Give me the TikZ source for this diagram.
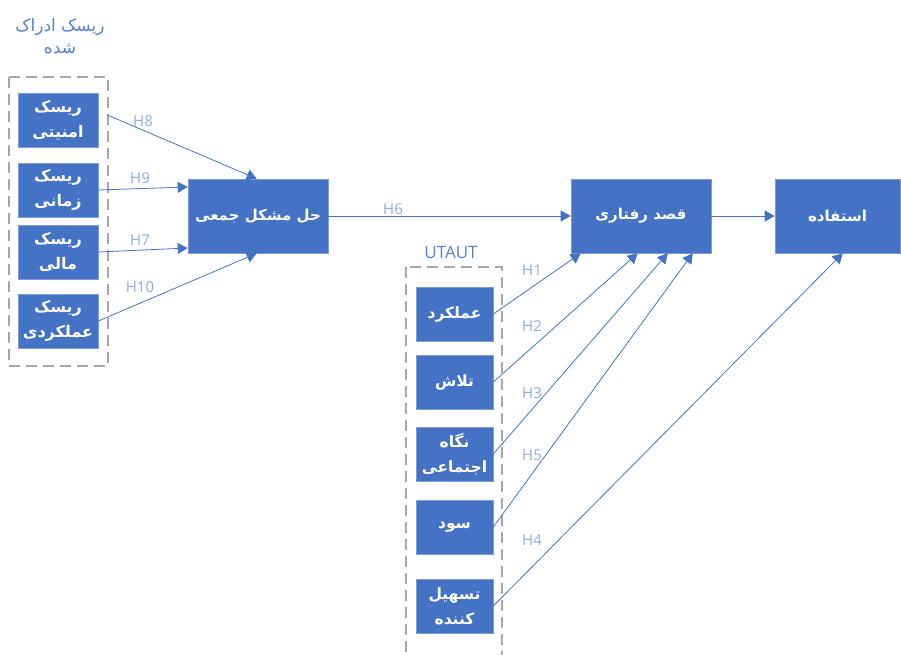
\documentclass[tikz,border=0pt]{standalone}
\usepackage{fontspec}
\usetikzlibrary{arrows.meta}
\setmainfont{Open Sans}
\newfontfamily\farsi[Script=Arabic]{DejaVu Sans}
\TeXXeTstate=1
\newcommand{\fa}[1]{{\farsi\beginR #1\endR}}

\definecolor{boxblue}{HTML}{4472C4}
\definecolor{boxedge}{HTML}{7C9AD6}
\definecolor{labblue}{HTML}{8FAADC}
\definecolor{titleblue}{HTML}{5580CA}
\definecolor{dashgray}{HTML}{A6A6A6}

\begin{document}
\begin{tikzpicture}[x=1pt,y=-1pt,
  box/.style={fill=boxblue,draw=boxedge,line width=0.6pt,text=white,align=center,
    inner sep=0pt,font=\bfseries\fontsize{15.5}{25}\selectfont},
  riskbox/.style={box,minimum width=80pt,minimum height=54pt,font=\bfseries\fontsize{16}{25}\selectfont},
  utbox/.style={box,minimum width=77pt,minimum height=54pt},
  bigbox/.style={box,minimum height=74pt,font=\bfseries\fontsize{15}{18}\selectfont},
  group/.style={draw=dashgray,line width=1.6pt,dash pattern=on 11pt off 6pt},
  conn/.style={draw=boxblue,line width=0.8pt,-{Triangle[length=10pt,width=11pt]}},
  hlab/.style={text=labblue,font=\fontsize{15}{17}\selectfont},
  gtitle/.style={text=titleblue,align=center,font=\fontsize{17}{22}\selectfont}]
\useasboundingbox (0,0) rectangle (901,654);

\draw[group] (9,77) rectangle (108,366);
\draw[group] (406,267) rectangle (502,680);

\node[gtitle] (risktitle) at (60,36) {\fa{ریسک ادراک}\\\fa{شده}};
\node[gtitle] (uttitle) at (451,252) {UTAUT};

\node[riskbox] (amniati) at (58,120) {\fa{ریسک}\\\fa{امنیتی}};
\node[riskbox] (zamani) at (58,190) {\fa{ریسک}\\\fa{زمانی}};
\node[riskbox] (mali) at (58,252) {\fa{ریسک}\\\fa{مالی}};
\node[riskbox] (amalkardi) at (58,321) {\fa{ریسک}\\\fa{عملکردی}};

\node[bigbox,minimum width=140pt] (hall) at (258,216) {\fa{حل مشکل جمعی}};
\node[bigbox,minimum width=140pt] (qasd) at (641,216) {\fa{قصد رفتاری}};
\node[bigbox,minimum width=125pt] (estefadeh) at (837.5,216) {\fa{استفاده}};

\node[utbox] (amal) at (454.5,314) {\fa{عملکرد}};
\node[utbox] (talash) at (454.5,382) {\fa{تلاش}};
\node[utbox] (negah) at (454.5,454) {\fa{نگاه}\\\fa{اجتماعی}};
\node[utbox] (sood) at (454.5,527) {\fa{سود}};
\node[utbox] (tashil) at (454.5,606) {\fa{تسهیل}\\\fa{کننده}};

% perceived risk -> collective problem solving
\draw[conn] ([xshift=9pt,yshift=5pt]amniati.east) -- ([xshift=69pt]hall.north west);
\draw[conn] (zamani.east) -- ([yshift=29pt]hall.west);
\draw[conn] (mali.east) -- ([yshift=-32pt]hall.west);
\draw[conn] (amalkardi.east) -- ([xshift=69pt]hall.south west);
\draw[conn] (hall.east) -- (qasd.west);
\draw[conn] (qasd.east) -- (estefadeh.west);

% UTAUT constructs
\draw[conn] (amal.east) -- ([xshift=10pt]qasd.south west);
\draw[conn] (talash.east) -- ([xshift=67pt]qasd.south west);
\draw[conn] (negah.east) -- ([xshift=97pt]qasd.south west);
\draw[conn] (sood.east) -- ([xshift=122pt]qasd.south west);
\draw[conn] (tashil.east) -- ([xshift=68pt]estefadeh.south west);

\node[hlab] (h8) at (143,121) {H8};
\node[hlab] (h9) at (140,178) {H9};
\node[hlab] (h7) at (140,240) {H7};
\node[hlab] (h10) at (140,287) {H10};
\node[hlab] (h6) at (393,209) {H6};
\node[hlab] (h1) at (532,270) {H1};
\node[hlab] (h2) at (532,326) {H2};
\node[hlab] (h3) at (532,393) {H3};
\node[hlab] (h5) at (532,455) {H5};
\node[hlab] (h4) at (532,540) {H4};
\end{tikzpicture}
\end{document}
